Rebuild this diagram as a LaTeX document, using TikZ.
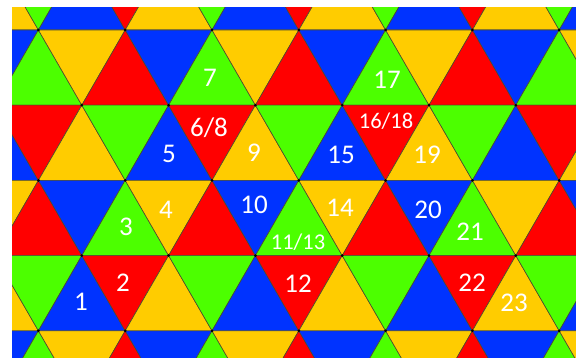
\documentclass[tikz,border=0pt]{standalone}
\usepackage{fontspec}
\setmainfont{Carlito}
\definecolor{R}{HTML}{FF0000}
\definecolor{B}{HTML}{0033FF}
\definecolor{G}{HTML}{4CFF00}
\definecolor{Y}{HTML}{FFCC00}
\definecolor{edge}{HTML}{4A4A30}
\colorlet{c00}{G}\colorlet{c01}{B}\colorlet{c02}{R}\colorlet{c03}{Y}
\colorlet{c10}{G}\colorlet{c11}{Y}\colorlet{c12}{R}\colorlet{c13}{B}
\colorlet{c20}{R}\colorlet{c21}{Y}\colorlet{c22}{G}\colorlet{c23}{B}
\colorlet{c30}{R}\colorlet{c31}{B}\colorlet{c32}{G}\colorlet{c33}{Y}
\begin{document}
\begin{tikzpicture}[x=1pt,y=-1pt,
  tri/.style={draw=edge, line width=0.6pt, line join=round},
  lab/.style={text=white, inner sep=0pt, font=\fontsize{27}{27}\selectfont},
  labs/.style={text=white, inner sep=0pt, font=\fontsize{22.5}{22.5}\selectfont}]
\useasboundingbox (0,0) rectangle (576,358);
\fill[white] (0,0) rectangle (576,358);
\begin{scope}
\clip (12,8) rectangle (576,358);
\foreach \r in {0,...,5}{
  \foreach \m in {-2,...,13}{
    \pgfmathsetmacro{\xm}{38.4+43.4*\m}
    \pgfmathsetmacro{\yt}{30+75.2*(\r-1)}
    \pgfmathsetmacro{\yb}{\yt+75.2}
    \pgfmathtruncatemacro{\rr}{mod(\r,4)}
    \pgfmathtruncatemacro{\k}{mod(\m+8,4)}
    \pgfmathtruncatemacro{\up}{mod(\r+\m+8,2)}
    \ifnum\up=1
      \filldraw[tri, fill=c\rr\k] (\xm,\yt) -- (\xm-43.4,\yb) -- (\xm+43.4,\yb) -- cycle;
    \else
      \filldraw[tri, fill=c\rr\k] (\xm,\yb) -- (\xm-43.4,\yt) -- (\xm+43.4,\yt) -- cycle;
    \fi
  }
}
\foreach \j in {0,...,6}{
  \pgfmathsetmacro{\yy}{30+75.2*(\j-1)}
  \pgfmathtruncatemacro{\off}{mod(\j+1,2)}
  \foreach \k in {-1,...,7}{
    \pgfmathsetmacro{\xx}{38.4+43.4*\off+86.8*\k}
    \fill[black] (\xx,\yy) circle (1.5);
  }
}
\end{scope}
\node[lab] (l7) at (210,78) {7};
\node[lab] (l68) at (209,128) {6/8};
\node[lab] (l5) at (169,154) {5};
\node[lab] (l9) at (254,153) {9};
\node[lab] (l17) at (387,80) {17};
\node[labs] (l1618) at (386,121) {16/18};
\node[lab] (l15) at (341,155) {15};
\node[lab] (l19) at (427,155) {19};
\node[lab] (l3) at (126,227) {3};
\node[lab] (l4) at (166,210) {4};
\node[lab] (l10) at (254,205) {10};
\node[labs] (l1113) at (298,242) {11/13};
\node[lab] (l14) at (340,208) {14};
\node[lab] (l20) at (428,210) {20};
\node[lab] (l21) at (470,232) {21};
\node[lab] (l1) at (81,302) {1};
\node[lab] (l2) at (123,283) {2};
\node[lab] (l12) at (298,284) {12};
\node[lab] (l22) at (472,283) {22};
\node[lab] (l23) at (514,303) {23};
\end{tikzpicture}
\end{document}
